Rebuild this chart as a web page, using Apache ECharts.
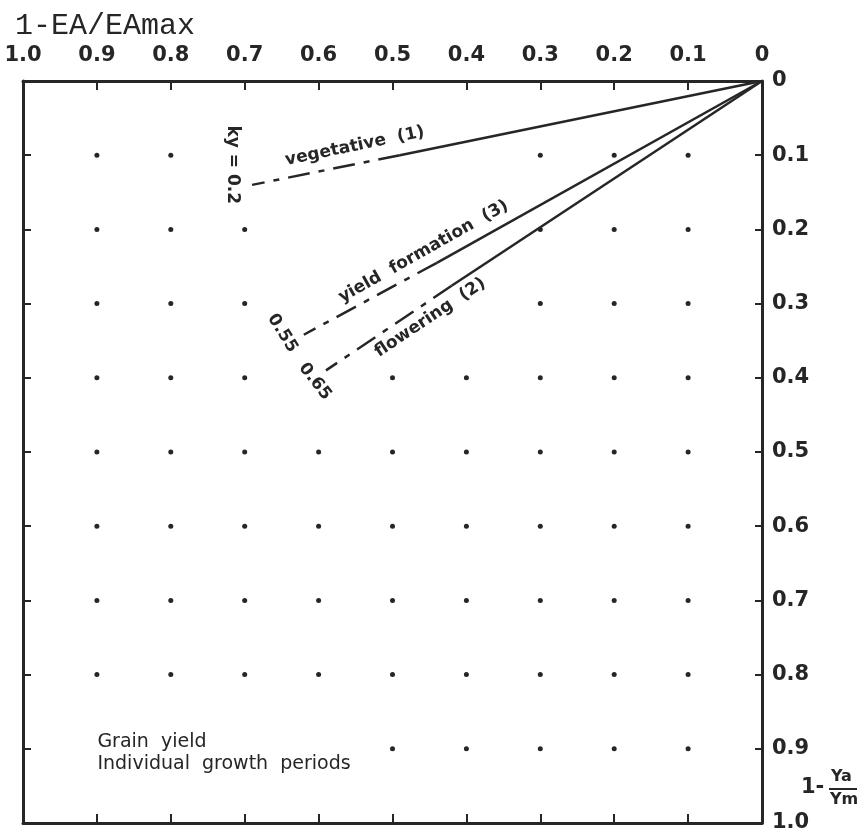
<!DOCTYPE html>
<html>
<head>
<meta charset="utf-8">
<script src="https://cdn.jsdelivr.net/npm/echarts@6/dist/echarts.min.js"></script>
<style>html,body{margin:0;padding:0;background:#fff;}#c{width:863px;height:836px;}</style>
</head>
<body>
<div id="c"></div>
<script>
// Lines: [x = 1-EA/EAmax, y = 1-Ya/Ym] points
const vegetativeSolid  = [[0, 0], [0.49, 0.100]];
const vegetativeDashed = [[0.49, 0.100], [0.69, 0.140]];
const yieldSolid       = [[0, 0], [0.44, 0.245]];
const yieldDashed      = [[0.44, 0.245], [0.62, 0.342]];
const floweringSolid   = [[0, 0], [0.42, 0.276]];
const floweringDashed  = [[0.42, 0.276], [0.59, 0.390]];

// Background dots: for each row (y value) the x values where a dot is printed
const dotRowY = [0.1, 0.2, 0.3, 0.4, 0.5, 0.6, 0.7, 0.8, 0.9];
const dotRowX = [
  [0.9, 0.8, 0.3, 0.2, 0.1],
  [0.9, 0.8, 0.7, 0.3, 0.2, 0.1],
  [0.9, 0.8, 0.7, 0.3, 0.2, 0.1],
  [0.9, 0.8, 0.7, 0.5, 0.4, 0.3, 0.2, 0.1],
  [0.9, 0.8, 0.7, 0.6, 0.5, 0.4, 0.3, 0.2, 0.1],
  [0.9, 0.8, 0.7, 0.6, 0.5, 0.4, 0.3, 0.2, 0.1],
  [0.9, 0.8, 0.7, 0.6, 0.5, 0.4, 0.3, 0.2, 0.1],
  [0.9, 0.8, 0.7, 0.6, 0.5, 0.4, 0.3, 0.2, 0.1],
  [0.5, 0.4, 0.3, 0.2, 0.1]
];

// Annotation texts: [x, y, text, rotate]
const lineLabels = [
  [0.551, 0.088, 'vegetative  (1)', 11.7],
  [0.458, 0.230, 'yield  formation  (3)', 29.4],
  [0.449, 0.319, 'flowering  (2)', 33.7],
  [0.716, 0.113, 'ky = 0.2', -90],
  [0.649, 0.340, '0.55', -58],
  [0.605, 0.405, '0.65', -52]
];
const noteLabels = [
  [0.9, 0.891, 'Grain  yield'],
  [0.9, 0.921, 'Individual  growth  periods']
];

const dots = [];
dotRowY.forEach((y, i) => dotRowX[i].forEach(x => dots.push([x, y])));

const INK = '#262626';
const FONT = 'DejaVu Sans';
const fmt = v => (Math.abs(v) < 1e-9 ? '0' : v.toFixed(1));

const baseAxis = {
  type: 'value', min: 0, max: 1, interval: 0.1, inverse: true,
  splitLine: { show: false },
  axisLine: { show: true, onZero: false, lineStyle: { color: INK, width: 3 } },
  axisTick: { show: true, inside: true, length: 9, lineStyle: { color: INK, width: 2 } }
};

const lineSeries = (data, dashed) => ({
  type: 'line', data: data, showSymbol: false, symbol: 'none', silent: true,
  xAxisIndex: 0, yAxisIndex: 0,
  lineStyle: { color: INK, width: 2.5, type: dashed ? [22, 9, 6, 9] : 'solid', cap: 'butt' }
});

const chart = echarts.init(document.getElementById('c'));
chart.setOption({
  animation: false,
  backgroundColor: '#fff',
  title: {
    text: '1-EA/EAmax', left: 10, top: 6,
    textStyle: { fontFamily: 'Liberation Mono', fontSize: 30, fontWeight: 'normal', color: INK }
  },
  grid: { left: 23, right: 101, top: 81, bottom: 13, containLabel: false },
  xAxis: [
    Object.assign({}, baseAxis, {
      position: 'top',
      axisLabel: { show: true, margin: 15, fontSize: 21, fontWeight: 'bold', fontFamily: FONT, color: INK, formatter: fmt }
    }),
    Object.assign({}, baseAxis, { position: 'bottom', axisLabel: { show: false } })
  ],
  yAxis: [
    Object.assign({}, baseAxis, {
      position: 'right',
      axisTick: { show: true, inside: true, length: 7, lineStyle: { color: INK, width: 2 } },
      axisLabel: { show: true, margin: 10, fontSize: 21, fontWeight: 'bold', fontFamily: FONT, color: INK, formatter: fmt }
    }),
    Object.assign({}, baseAxis, {
      position: 'left',
      axisTick: { show: true, inside: true, length: 8, lineStyle: { color: INK, width: 2 } },
      axisLabel: { show: false }
    })
  ],
  series: [
    {
      type: 'scatter', data: dots, symbolSize: 5, silent: true,
      itemStyle: { color: INK, opacity: 1 }
    },
    lineSeries(vegetativeSolid, false),
    lineSeries(vegetativeDashed, true),
    lineSeries(yieldSolid, false),
    lineSeries(yieldDashed, true),
    lineSeries(floweringSolid, false),
    lineSeries(floweringDashed, true),
    {
      type: 'scatter', silent: true, symbolSize: 1, itemStyle: { color: 'rgba(0,0,0,0)', opacity: 1 },
      data: lineLabels.map(d => ({
        value: [d[0], d[1]],
        label: { show: true, formatter: d[2], rotate: d[3], position: 'inside',
          fontFamily: FONT, fontSize: 17, fontWeight: 'bold', color: INK, opacity: 1,
          align: 'center', verticalAlign: 'middle' }
      }))
    },
    {
      type: 'scatter', silent: true, symbolSize: 1, itemStyle: { color: 'rgba(0,0,0,0)', opacity: 1 },
      data: noteLabels.map(d => ({
        value: [d[0], d[1]],
        label: { show: true, formatter: d[2], position: 'right', distance: 0,
          fontFamily: FONT, fontSize: 19, color: INK, opacity: 1, align: 'left', verticalAlign: 'middle' }
      }))
    }
  ],
  graphic: [
    { type: 'text', left: 801, top: 777, style: { text: '1-', font: 'bold 21px "DejaVu Sans"', fill: INK } },
    { type: 'text', left: 831, top: 769, style: { text: 'Ya', font: 'bold 16px "DejaVu Sans"', fill: INK } },
    { type: 'line', shape: { x1: 829, y1: 789, x2: 857, y2: 789 }, style: { stroke: INK, lineWidth: 2 } },
    { type: 'text', left: 830, top: 792, style: { text: 'Ym', font: 'bold 16px "DejaVu Sans"', fill: INK } }
  ]
});
</script>
</body>
</html>
